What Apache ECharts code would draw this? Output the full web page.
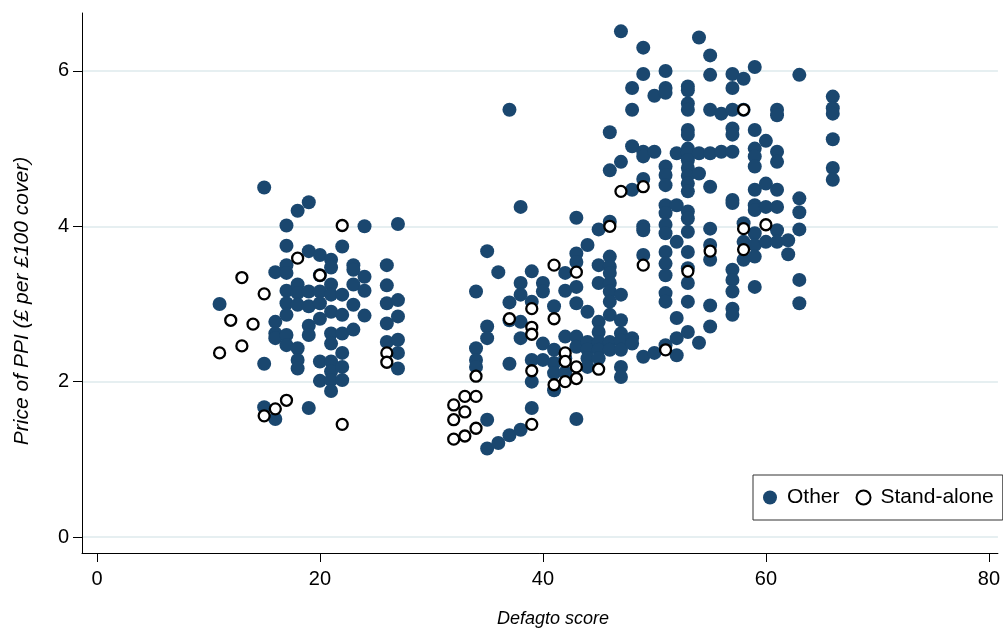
<!DOCTYPE html>
<html>
<head>
<meta charset="utf-8">
<style>
  html, body { margin: 0; padding: 0; background: #fff; }
  #chart { width: 1003px; height: 628px; }
</style>
<script src="https://cdn.jsdelivr.net/npm/echarts@6/dist/echarts.min.js"></script>
</head>
<body>
<div id="chart"></div>
<script>
// Defagto score vs price of PPI
const xTicks = [0, 20, 40, 60, 80]
const yTicks = [0, 2, 4, 6]

const otherPoints = [
  [11, 3.00],
  [15, 4.50], [15, 2.23], [15, 1.67],
  [16, 3.41], [16, 2.77], [16, 2.62], [16, 2.56], [16, 1.52],
  [17, 4.01], [17, 3.75], [17, 3.50], [17, 3.40], [17, 3.17], [17, 3.01], [17, 2.86], [17, 2.60], [17, 2.47],
  [18, 4.20], [18, 3.25], [18, 3.14], [18, 2.99], [18, 2.43], [18, 2.28], [18, 2.17],
  [19, 4.31], [19, 3.68], [19, 3.16], [19, 2.97], [19, 2.72], [19, 2.60], [19, 1.66],
  [20, 3.63], [20, 3.37], [20, 3.16], [20, 3.01], [20, 2.81], [20, 2.26], [20, 2.01],
  [21, 3.57], [21, 3.47], [21, 3.25], [21, 3.12], [21, 2.90], [21, 2.62], [21, 2.49], [21, 2.26], [21, 2.13], [21, 2.02], [21, 1.88],
  [22, 3.74], [22, 3.12], [22, 2.86], [22, 2.62], [22, 2.37], [22, 2.19], [22, 2.02],
  [23, 3.50], [23, 3.44], [23, 3.25], [23, 2.99], [23, 2.67],
  [24, 4.00], [24, 3.35], [24, 3.17], [24, 2.85],
  [26, 3.50], [26, 3.24], [26, 3.01], [26, 2.75], [26, 2.51],
  [27, 4.03], [27, 3.05], [27, 2.84], [27, 2.54], [27, 2.37], [27, 2.17],
  [34, 3.16], [34, 2.43], [34, 2.28], [34, 2.19],
  [35, 3.68], [35, 2.71], [35, 2.56], [35, 1.51], [35, 1.14],
  [36, 3.41], [36, 1.21],
  [37, 5.50], [37, 3.02], [37, 2.79], [37, 2.23], [37, 1.31],
  [38, 4.25], [38, 3.27], [38, 3.12], [38, 2.77], [38, 2.56], [38, 1.38],
  [39, 3.42], [39, 3.03], [39, 2.28], [39, 2.00], [39, 1.66],
  [40, 3.27], [40, 3.16], [40, 2.49], [40, 2.28],
  [41, 2.97], [41, 2.41], [41, 2.24], [41, 2.11], [41, 1.89],
  [42, 3.40], [42, 3.17], [42, 2.58], [42, 2.30], [42, 2.12],
  [43, 4.11], [43, 3.65], [43, 3.54], [43, 3.22], [43, 3.01], [43, 2.58], [43, 2.45], [43, 1.52],
  [44, 3.76], [44, 2.90], [44, 2.51], [44, 2.41], [44, 2.30], [44, 2.19],
  [45, 3.96], [45, 3.50], [45, 3.27], [45, 2.77], [45, 2.64], [45, 2.51], [45, 2.41], [45, 2.30],
  [46, 5.21], [46, 4.72], [46, 4.06], [46, 3.61], [46, 3.48], [46, 3.40], [46, 3.27], [46, 3.16], [46, 3.03], [46, 2.86], [46, 2.51], [46, 2.41],
  [47, 6.51], [47, 4.83], [47, 3.12], [47, 2.79], [47, 2.62], [47, 2.53], [47, 2.41], [47, 2.19], [47, 2.06],
  [48, 5.78], [48, 5.50], [48, 5.03], [48, 4.47], [48, 2.56], [48, 2.49],
  [49, 6.30], [49, 5.96], [49, 4.96], [49, 4.90], [49, 4.61], [49, 4.00], [49, 3.95], [49, 3.63], [49, 2.32],
  [50, 5.68], [50, 4.96], [50, 2.37],
  [51, 6.00], [51, 5.78], [51, 5.72], [51, 4.77], [51, 4.66], [51, 4.53], [51, 4.27], [51, 4.17], [51, 4.02], [51, 3.91], [51, 3.67], [51, 3.52], [51, 3.37], [51, 3.14], [51, 3.03], [51, 2.47],
  [52, 4.94], [52, 4.27], [52, 3.80], [52, 2.82], [52, 2.56], [52, 2.34],
  [53, 5.80], [53, 5.75], [53, 5.58], [53, 5.50], [53, 5.24], [53, 5.18], [53, 5.00], [53, 4.94], [53, 4.85], [53, 4.75], [53, 4.65], [53, 4.55], [53, 4.45], [53, 4.19], [53, 4.10], [53, 3.93], [53, 3.67], [53, 3.46], [53, 3.27], [53, 3.03], [53, 2.64],
  [54, 6.43], [54, 4.94], [54, 4.68], [54, 2.50],
  [55, 6.20], [55, 5.95], [55, 5.50], [55, 4.94], [55, 4.51], [55, 3.97], [55, 3.76], [55, 3.57], [55, 2.98], [55, 2.71],
  [56, 5.45], [56, 4.96],
  [57, 5.96], [57, 5.78], [57, 5.50], [57, 5.26], [57, 5.18], [57, 4.96], [57, 4.34], [57, 4.30], [57, 3.44], [57, 3.31], [57, 3.16], [57, 2.94], [57, 2.86],
  [58, 5.90], [58, 5.50], [58, 4.04], [58, 3.80], [58, 3.57],
  [59, 6.05], [59, 5.24], [59, 5.00], [59, 4.90], [59, 4.77], [59, 4.47], [59, 4.27], [59, 4.21], [59, 3.91], [59, 3.76], [59, 3.61], [59, 3.22],
  [60, 5.10], [60, 4.55], [60, 4.25], [60, 3.80],
  [61, 5.50], [61, 5.43], [61, 4.96], [61, 4.83], [61, 4.47], [61, 4.25], [61, 3.95], [61, 3.80],
  [62, 3.82], [62, 3.64],
  [63, 5.95], [63, 4.36], [63, 4.18], [63, 3.96], [63, 3.31], [63, 3.01],
  [66, 5.67], [66, 5.52], [66, 5.45], [66, 5.12], [66, 4.75], [66, 4.60]
]

const standAlonePoints = [
  [11, 2.37], [12, 2.79], [13, 3.34], [13, 2.46], [14, 2.74], [15, 3.13], [15, 1.56],
  [16, 1.65], [17, 1.76], [18, 3.59], [20, 3.37], [22, 4.01], [22, 1.45], [26, 2.37], [26, 2.25],
  [32, 1.70], [32, 1.51], [32, 1.26], [33, 1.81], [33, 1.61], [33, 1.30],
  [34, 2.07], [34, 1.81], [34, 1.40], [37, 2.81],
  [39, 2.94], [39, 2.70], [39, 2.61], [39, 2.14], [39, 1.45],
  [41, 3.50], [41, 2.81], [41, 1.96], [42, 2.37], [42, 2.26], [42, 2.00],
  [43, 3.41], [43, 2.19], [43, 2.04], [45, 2.16], [46, 4.00], [47, 4.45],
  [49, 4.51], [49, 3.50], [51, 2.41], [53, 3.42], [55, 3.68],
  [58, 5.50], [58, 3.97], [58, 3.70], [60, 4.02]
]

const navy = '#1a476f'
const fontFamily = '"Liberation Sans", Arial, sans-serif'

const chart = echarts.init(document.getElementById('chart'))

chart.setOption({
  animation: false,
  textStyle: { fontFamily: fontFamily },
  grid: { left: 82, top: 13, right: 3, bottom: 75 },
  xAxis: {
    type: 'value',
    min: -1.34,
    max: 80.81,
    axisLine: { show: true, onZero: false, lineStyle: { color: '#000', width: 1 } },
    axisTick: { show: true, customValues: xTicks, length: 9, lineStyle: { color: '#000' } },
    axisLabel: { customValues: xTicks, color: '#000', fontSize: 20, margin: 16 },
    splitLine: { show: false }
  },
  yAxis: {
    type: 'value',
    min: -0.206,
    max: 6.746,
    axisLine: { show: true, onZero: false, lineStyle: { color: '#000', width: 1 } },
    axisTick: { show: true, customValues: yTicks, length: 9, lineStyle: { color: '#000' } },
    axisLabel: { customValues: yTicks, color: '#000', fontSize: 20, margin: 13 },
    splitLine: { show: true, lineStyle: { color: '#e6eff1', width: 2 } }
  },
  legend: {
    left: 753,
    top: 475,
    width: 260,
    orient: 'horizontal',
    padding: [12, 9, 12, 10],
    itemWidth: 24,
    itemHeight: 14,
    itemGap: 16,
    borderColor: '#333',
    borderWidth: 1,
    backgroundColor: '#fff',
    textStyle: { fontSize: 21, color: '#000' },
    data: [
      { name: 'Other', icon: 'circle' },
      { name: 'Stand-alone', icon: 'circle' }
    ]
  },
  graphic: [
    {
      type: 'text',
      x: 22,
      y: 301,
      rotation: Math.PI / 2,
      style: {
        text: 'Price of PPI (£ per £100 cover)',
        fontSize: 21,
        fontStyle: 'italic',
        fontFamily: fontFamily,
        fill: '#000',
        align: 'center',
        verticalAlign: 'middle'
      }
    },
    {
      type: 'text',
      x: 553,
      y: 619,
      style: {
        text: 'Defagto score',
        fontSize: 18,
        fontStyle: 'italic',
        fontFamily: fontFamily,
        fill: '#000',
        align: 'center',
        verticalAlign: 'middle'
      }
    }
  ],
  series: [
    {
      name: 'Other',
      type: 'scatter',
      symbol: 'circle',
      symbolSize: 14,
      itemStyle: { color: navy, opacity: 1 },
      data: otherPoints
    },
    {
      name: 'Stand-alone',
      type: 'scatter',
      symbol: 'circle',
      symbolSize: 11,
      itemStyle: { color: '#fff', borderColor: '#000', borderWidth: 2.3, opacity: 1 },
      data: standAlonePoints
    }
  ]
})
</script>
</body>
</html>
